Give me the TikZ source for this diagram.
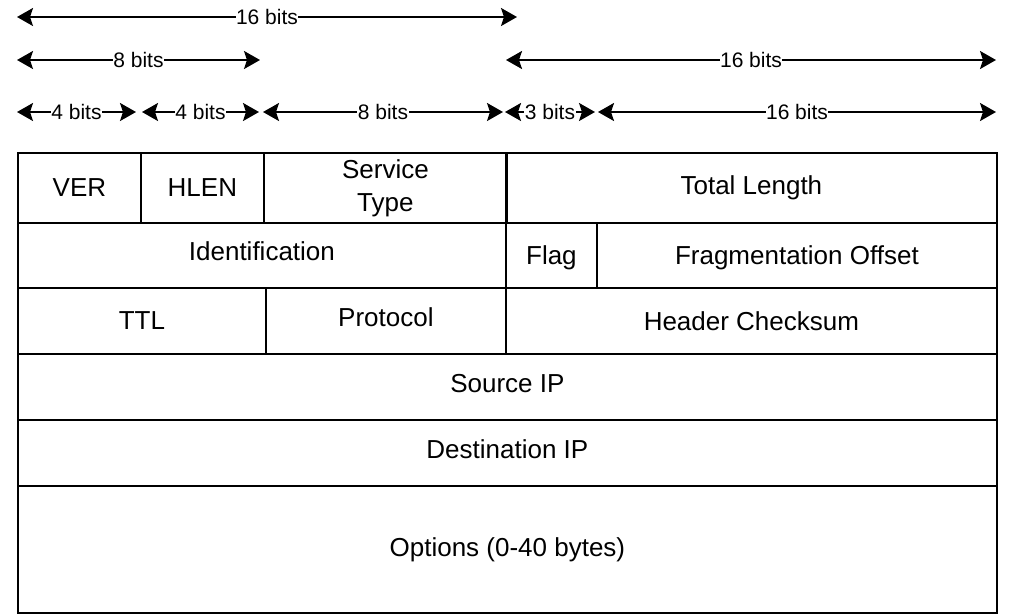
\documentclass[tikz,border=0pt]{standalone}
\usepackage{fontspec}
\setmainfont{Liberation Sans}
\usetikzlibrary{arrows.meta}
\tikzset{
  >={Stealth[length=16pt,width=18pt,inset=3pt]},
  cell/.style={draw, line width=1.8pt, anchor=north west, inner sep=0pt,
    font=\fontsize{26}{33}\selectfont, align=center},
  raised/.style={text depth=#1},
  bits/.style={line width=2pt, <->},
  bitlabel/.style={fill=white, inner sep=0.5pt, font=\fontsize{21}{24}\selectfont}
}
\begin{document}
\begin{tikzpicture}[x=1pt,y=-1pt]
      \useasboundingbox (0,0) rectangle (1016,614);
      %Bit widths, top row
      \coordinate (a1) at (17,17);
      \coordinate (a2) at (517,17);
      \draw[bits] (a1) -- (a2) node[midway,bitlabel] (l16a) {16 bits};
      %Second row
      \coordinate (b1) at (17,60);
      \coordinate (b2) at (260,60);
      \coordinate (b3) at (506,60);
      \coordinate (b4) at (996,60);
      \draw[bits] (b1) -- (b2) node[midway,bitlabel] (l8a) {8 bits};
      \draw[bits] (b3) -- (b4) node[midway,bitlabel] (l16b) {16 bits};
      %Third row
      \coordinate (c1) at (17,112);
      \coordinate (c2) at (136,112);
      \coordinate (c3) at (142,112);
      \coordinate (c4) at (259,112);
      \coordinate (c5) at (263,112);
      \coordinate (c6) at (503,112);
      \coordinate (c7) at (505,112);
      \coordinate (c8) at (595,112);
      \coordinate (c9) at (598,112);
      \coordinate (c10) at (996,112);
      \draw[bits] (c1) -- (c2) node[midway,bitlabel] (l4a) {4 bits};
      \draw[bits] (c3) -- (c4) node[midway,bitlabel] (l4b) {4 bits};
      \draw[bits] (c5) -- (c6) node[midway,bitlabel] (l8b) {8 bits};
      \draw[bits] (c7) -- (c8) node[midway,bitlabel] (l3) {3 bits};
      \draw[bits] (c9) -- (c10) node[midway,bitlabel] (l16c) {16 bits};
      %Header, first word
      \node[cell, minimum width=123, minimum height=70] (ver) at (17,152) {VER};
      \node[cell, minimum width=123, minimum height=70] (hlen) at (140,152) {HLEN};
      \node[cell, minimum width=243, minimum height=70] (tos) at (263,152) {Service\\Type};
      \node[cell, minimum width=491, minimum height=70] (totlen) at (505,152) {Total Length};
      %Second word
      \node[cell, raised=8pt, minimum width=488, minimum height=65] (ident) at (17,222) {Identification};
      \node[cell, raised=0pt, minimum width=91, minimum height=65] (flag) at (505,222) {Flag};
      \node[cell, raised=0pt, minimum width=400, minimum height=65] (frag) at (596,222) {Fragmentation Offset};
      %Third word
      \node[cell, minimum width=248, minimum height=66] (ttl) at (17,287) {TTL};
      \node[cell, raised=8pt, minimum width=240, minimum height=66] (proto) at (265,287) {Protocol};
      \node[cell, minimum width=491, minimum height=66] (chksum) at (505,287) {Header Checksum};
      %Addresses and options
      \node[cell, raised=6pt, minimum width=979, minimum height=66] (src) at (17,353) {Source IP};
      \node[cell, raised=8pt, minimum width=979, minimum height=66] (dst) at (17,419) {Destination IP};
      \node[cell, minimum width=979, minimum height=127] (opt) at (17,485) {Options (0-40 bytes)};
\end{tikzpicture}
\end{document}
